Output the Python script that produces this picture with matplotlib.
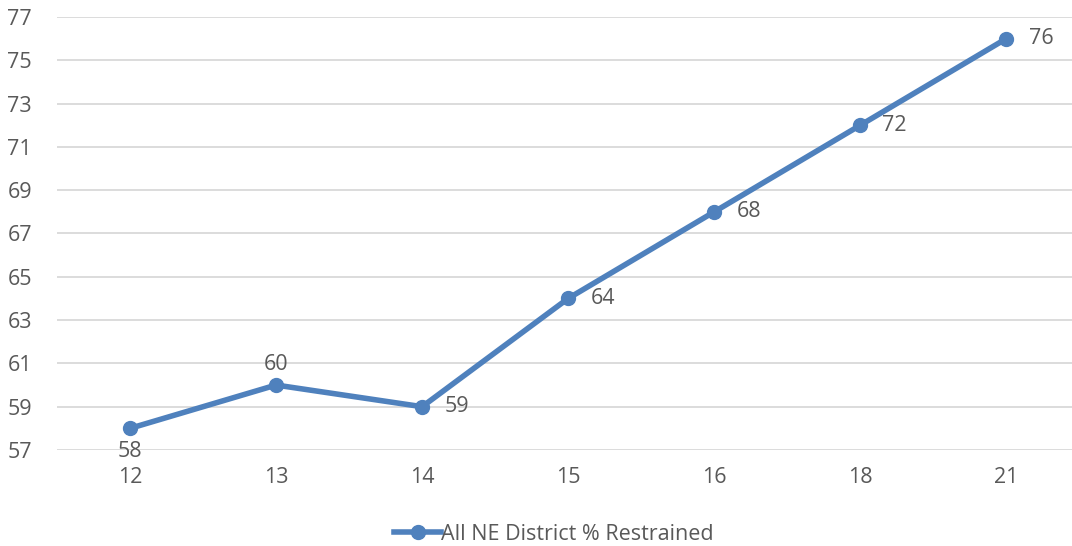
import matplotlib.pyplot as plt

# data
ages = ["12", "13", "14", "15", "16", "18", "21"]
restrained = [58, 60, 59, 64, 68, 72, 76]
label_pos = ["below", "above", "right", "right", "right", "right", "right"]

plt.rcParams["font.family"] = ["Open Sans", "DejaVu Sans"]
grey = "#595959"
blue = "#4F81BD"
fs = 15.5

fig = plt.figure(figsize=(10.72, 5.46), dpi=100)
ax = fig.add_axes([57 / 1072, 1 - 450 / 546, 1 - 57 / 1072, (450 - 17) / 546])

x = range(len(ages))
ax.plot(x, restrained, color=blue, linewidth=4, marker="o", markersize=10,
        label="All NE District % Restrained", zorder=3)

# data labels
for xi, v, pos in zip(x, restrained, label_pos):
    if pos == "below":
        ax.annotate(str(v), (xi, v), xytext=(0, -9), textcoords="offset points",
                    ha="center", va="top", fontsize=fs, color=grey)
    elif pos == "above":
        ax.annotate(str(v), (xi, v), xytext=(0, 7), textcoords="offset points",
                    ha="center", va="bottom", fontsize=fs, color=grey)
    else:
        ax.annotate(str(v), (xi, v), xytext=(16, 0), textcoords="offset points",
                    ha="left", va="center", fontsize=fs, color=grey)

ax.set_ylim(57, 77)
ax.set_yticks(range(57, 78, 2))
ax.set_xlim(-0.5, 6.45)
ax.set_xticks(list(x))
ax.set_xticklabels(ages)
ax.tick_params(axis="both", length=0, labelsize=fs, labelcolor=grey)
ax.tick_params(axis="x", pad=12)
ax.tick_params(axis="y", pad=18)
ax.grid(axis="y", color="#D9D9D9", linewidth=1.3)
ax.set_axisbelow(True)
for s in ax.spines.values():
    s.set_visible(False)

leg = fig.legend(loc="center", bbox_to_anchor=(554 / 1072, 1 - 534 / 546), frameon=False,
                 fontsize=fs, handlelength=2.2, handletextpad=0.0, labelcolor=grey)

fig.savefig("out.png", dpi=100)
